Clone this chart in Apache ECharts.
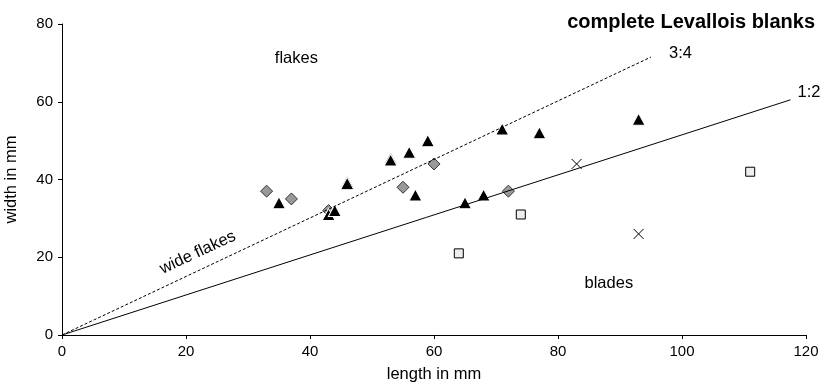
<!DOCTYPE html>
<html>
<head>
<meta charset="utf-8">
<script src="https://cdn.jsdelivr.net/npm/echarts@6/dist/echarts.min.js"></script>
<style>html,body{margin:0;padding:0;background:#fff}#c{width:833px;height:390px}</style>
</head>
<body>
<div id="c"></div>
<script>
// data (length mm, width mm)
var triangles = [[35,34],[43,31],[44,32],[46,39.5],[46,39],[53,45.5],[53,45],[56,47],[57,36],[59,50],[65,34],[68,36],[71,53],[77,52],[93,55.5]];
var diamonds = [[33,37],[37,35],[43,32],[55,38],[60,44],[72,37]];
var squares = [[64,21],[74,31],[111,42]];
var crosses = [[83,44],[93,26]];
var line34 = [[0,0],[95,71.5]];
var line12 = [[0,0],[117.5,60.5]];
var annotations = [
  {name:'flakes', value:[37.8,71.1], rotate:0},
  {name:'blades', value:[88.2,13.3], rotate:0},
  {name:'wide flakes', value:[21.9,21.2], rotate:25}
];
var xTicks = {min:0, max:120, interval:20};
var yTicks = {min:0, max:80, interval:20};

var font = 'Liberation Sans, Arial, sans-serif';
var chart = echarts.init(document.getElementById('c'), null, {renderer:'canvas'});
chart.setOption({
  animation:false,
  backgroundColor:'#fff',
  title:{text:'complete Levallois blanks', right:13, top:7,
    textStyle:{fontFamily:font, fontSize:20, fontWeight:'bold', color:'#000'}},
  grid:{left:62, right:27, top:24, bottom:55, containLabel:false, outerBoundsMode:'none'},
  xAxis:{type:'value', min:xTicks.min, max:xTicks.max, interval:xTicks.interval,
    name:'length in mm', nameLocation:'middle', nameGap:31,
    nameTextStyle:{fontFamily:font, fontSize:16.5, color:'#000'},
    axisLine:{lineStyle:{color:'#000', width:1}},
    axisTick:{show:true, length:4, lineStyle:{color:'#000'}},
    axisLabel:{fontFamily:font, fontSize:15, color:'#000', margin:9},
    splitLine:{show:false}},
  yAxis:{type:'value', min:yTicks.min, max:yTicks.max, interval:yTicks.interval,
    name:'width in mm', nameLocation:'middle', nameGap:42,
    nameTextStyle:{fontFamily:font, fontSize:16.5, color:'#000'},
    axisLine:{show:true, lineStyle:{color:'#000', width:1}},
    axisTick:{show:true, length:4, lineStyle:{color:'#000'}},
    axisLabel:{fontFamily:font, fontSize:15, color:'#000', margin:9},
    splitLine:{show:false}},
  series:[
    {type:'line', data:line34, symbol:'none', silent:true,
     lineStyle:{color:'#000', width:1, type:[3,2]},
     endLabel:{show:true, formatter:'3:4', fontFamily:font, fontSize:16.5, color:'#000', distance:18, offset:[0,-4]}},
    {type:'line', data:line12, symbol:'none', silent:true,
     lineStyle:{color:'#000', width:1},
     endLabel:{show:true, formatter:'1:2', fontFamily:font, fontSize:16.5, color:'#000', distance:7, offset:[0,-7]}},
    {type:'scatter', data:diamonds, symbol:'diamond', symbolSize:[12,12],
     itemStyle:{color:'#999999', borderColor:'#333', borderWidth:1, opacity:1}},
    {type:'scatter', data:squares, symbol:'rect', symbolSize:9,
     itemStyle:{color:'#eeeeee', borderColor:'#000', borderWidth:1, opacity:1}},
    {type:'scatter', data:crosses, symbol:'path://M0,0L10,10M10,0L0,10', symbolSize:10,
     itemStyle:{color:'none', borderColor:'#000', borderWidth:1, opacity:1}},
    {type:'scatter', data:triangles, symbol:'triangle', symbolSize:[13,12],
     itemStyle:{color:'#000', borderColor:'#fff', borderWidth:1, opacity:1}},
    {type:'scatter', symbolSize:0, silent:true, itemStyle:{opacity:1},
     data:annotations.map(function(a){return {name:a.name, value:a.value,
       label:{show:true, position:'inside', formatter:'{b}', rotate:a.rotate,
         fontFamily:font, fontSize:16.5, color:'#000', textBorderWidth:0}};})}
  ]
});
</script>
</body>
</html>
